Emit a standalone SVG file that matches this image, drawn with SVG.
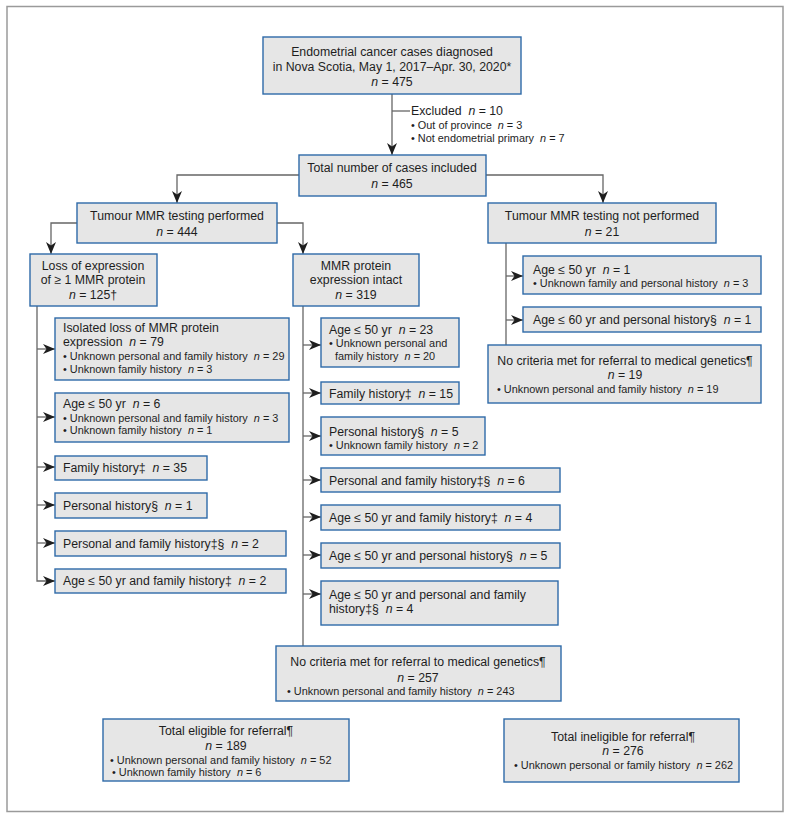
<svg xmlns="http://www.w3.org/2000/svg" width="791" height="819" viewBox="0 0 791 819">
<style>
text{font-family:"Liberation Sans",Arial,sans-serif;fill:#1e1e1e;white-space:pre}
.t{font-size:12.3px}
.s{font-size:10.9px}
.c{text-anchor:middle}
.i{font-style:italic}
.box{fill:#e6e6e6;stroke:#2e6aa8;stroke-width:1.4}
.ln{fill:none;stroke:#666;stroke-width:1.3}
</style>
<defs>
<marker id="ar" markerUnits="userSpaceOnUse" markerWidth="13" markerHeight="11" refX="12" refY="5" orient="auto">
<path d="M0,0 L12,5 L0,10 L3.5,5 z" fill="#1e1e1e"/>
</marker>
</defs>
<rect x="7" y="6.5" width="776" height="805" fill="#fff" stroke="#9a9a9a" stroke-width="1.5"/>

<g id="connectors">
<path class="ln" d="M392,94 V155" marker-end="url(#ar)"/>
<path class="ln" d="M392,111 H410"/>
<path class="ln" d="M299,175 H177 V203" marker-end="url(#ar)"/>
<path class="ln" d="M486,175 H603 V203" marker-end="url(#ar)"/>
<path class="ln" d="M77,223 H51 V254" marker-end="url(#ar)"/>
<path class="ln" d="M277,223 H303 V254" marker-end="url(#ar)"/>
<path class="ln" d="M37,306 V581 H55" marker-end="url(#ar)"/>
<path class="ln" d="M37,349 H55" marker-end="url(#ar)"/>
<path class="ln" d="M37,417 H55" marker-end="url(#ar)"/>
<path class="ln" d="M37,467 H55" marker-end="url(#ar)"/>
<path class="ln" d="M37,505 H55" marker-end="url(#ar)"/>
<path class="ln" d="M37,543 H55" marker-end="url(#ar)"/>
<path class="ln" d="M303,306 V646"/>
<path class="ln" d="M303,345 H321" marker-end="url(#ar)"/>
<path class="ln" d="M303,393 H321" marker-end="url(#ar)"/>
<path class="ln" d="M303,436 H321" marker-end="url(#ar)"/>
<path class="ln" d="M303,480 H321" marker-end="url(#ar)"/>
<path class="ln" d="M303,517 H321" marker-end="url(#ar)"/>
<path class="ln" d="M303,555 H321" marker-end="url(#ar)"/>
<path class="ln" d="M303,594 H321" marker-end="url(#ar)"/>
<path class="ln" d="M506,243 V345"/>
<path class="ln" d="M506,276 H523" marker-end="url(#ar)"/>
<path class="ln" d="M506,320 H523" marker-end="url(#ar)"/>
</g>

<g id="n-top">
<rect class="box" x="263" y="37" width="258" height="57"/>
<text class="t c" x="392" y="56">Endometrial cancer cases diagnosed</text>
<text class="t c" x="392" y="71">in Nova Scotia, May 1, 2017–Apr. 30, 2020*</text>
<text class="t c" x="392" y="86"><tspan class="i">n</tspan> = 475</text>
</g>

<g id="n-excluded">
<text class="t" x="411" y="115">Excluded  <tspan class="i">n</tspan> = 10</text>
<text class="s" x="411" y="129">• Out of province  <tspan class="i">n</tspan> = 3</text>
<text class="s" x="411" y="142">• Not endometrial primary  <tspan class="i">n</tspan> = 7</text>
</g>

<g id="n-total">
<rect class="box" x="299" y="155" width="187" height="41"/>
<text class="t c" x="392" y="172">Total number of cases included</text>
<text class="t c" x="392" y="188"><tspan class="i">n</tspan> = 465</text>
</g>

<g id="n-performed">
<rect class="box" x="77" y="203" width="200" height="40"/>
<text class="t c" x="177" y="220">Tumour MMR testing performed</text>
<text class="t c" x="177" y="236"><tspan class="i">n</tspan> = 444</text>
</g>

<g id="n-notperformed">
<rect class="box" x="488" y="203" width="228" height="40"/>
<text class="t c" x="602" y="220">Tumour MMR testing not performed</text>
<text class="t c" x="602" y="236"><tspan class="i">n</tspan> = 21</text>
</g>

<g id="n-loss">
<rect class="box" x="30" y="254" width="127" height="52"/>
<text class="t c" x="93" y="270">Loss of expression</text>
<text class="t c" x="93" y="284">of ≥ 1 MMR protein</text>
<text class="t c" x="93" y="299"><tspan class="i">n</tspan> = 125†</text>
</g>

<g id="n-intact">
<rect class="box" x="293" y="254" width="126" height="52"/>
<text class="t c" x="356" y="270">MMR protein</text>
<text class="t c" x="356" y="284">expression intact</text>
<text class="t c" x="356" y="299"><tspan class="i">n</tspan> = 319</text>
</g>

<g id="n-l1">
<rect class="box" x="55" y="318" width="234" height="62"/>
<text class="t" x="63" y="332">Isolated loss of MMR protein</text>
<text class="t" x="63" y="346">expression  <tspan class="i">n</tspan> = 79</text>
<text class="s" x="63" y="359.5">• Unknown personal and family history  <tspan class="i">n</tspan> = 29</text>
<text class="s" x="63" y="372.5">• Unknown family history  <tspan class="i">n</tspan> = 3</text>
</g>
<g id="n-l2">
<rect class="box" x="55" y="393" width="234" height="49"/>
<text class="t" x="63" y="408">Age ≤ 50 yr  <tspan class="i">n</tspan> = 6</text>
<text class="s" x="63" y="421.5">• Unknown personal and family history  <tspan class="i">n</tspan> = 3</text>
<text class="s" x="63" y="434">• Unknown family history  <tspan class="i">n</tspan> = 1</text>
</g>
<g id="n-l3">
<rect class="box" x="55" y="456" width="152" height="24"/>
<text class="t" x="63" y="472">Family history‡  <tspan class="i">n</tspan> = 35</text>
</g>
<g id="n-l4">
<rect class="box" x="55" y="493" width="152" height="25"/>
<text class="t" x="63" y="509.5">Personal history§  <tspan class="i">n</tspan> = 1</text>
</g>
<g id="n-l5">
<rect class="box" x="55" y="531" width="231" height="25"/>
<text class="t" x="63" y="547.5">Personal and family history‡§  <tspan class="i">n</tspan> = 2</text>
</g>
<g id="n-l6">
<rect class="box" x="55" y="569" width="231" height="24"/>
<text class="t" x="63" y="585">Age ≤ 50 yr and family history‡  <tspan class="i">n</tspan> = 2</text>
</g>

<g id="n-m1">
<rect class="box" x="321" y="318" width="138" height="49"/>
<text class="t" x="329" y="334">Age ≤ 50 yr  <tspan class="i">n</tspan> = 23</text>
<text class="s" x="329" y="347">• Unknown personal and</text>
<text class="s" x="335" y="360">family history  <tspan class="i">n</tspan> = 20</text>
</g>
<g id="n-m2">
<rect class="box" x="321" y="382" width="138" height="22"/>
<text class="t" x="329" y="397.5">Family history‡  <tspan class="i">n</tspan> = 15</text>
</g>
<g id="n-m3">
<rect class="box" x="321" y="417" width="164" height="38"/>
<text class="t" x="329" y="436">Personal history§  <tspan class="i">n</tspan> = 5</text>
<text class="s" x="329" y="449">• Unknown family history  <tspan class="i">n</tspan> = 2</text>
</g>
<g id="n-m4">
<rect class="box" x="321" y="468" width="239" height="24"/>
<text class="t" x="329" y="485">Personal and family history‡§  <tspan class="i">n</tspan> = 6</text>
</g>
<g id="n-m5">
<rect class="box" x="321" y="505" width="239" height="25"/>
<text class="t" x="329" y="522">Age ≤ 50 yr and family history‡  <tspan class="i">n</tspan> = 4</text>
</g>
<g id="n-m6">
<rect class="box" x="321" y="543" width="239" height="25"/>
<text class="t" x="329" y="559.5">Age ≤ 50 yr and personal history§  <tspan class="i">n</tspan> = 5</text>
</g>
<g id="n-m7">
<rect class="box" x="321" y="581" width="237" height="44"/>
<text class="t" x="329" y="598.5">Age ≤ 50 yr and personal and family</text>
<text class="t" x="329" y="613">history‡§  <tspan class="i">n</tspan> = 4</text>
</g>

<g id="n-midnone">
<rect class="box" x="276" y="646" width="285" height="55"/>
<text class="t c" x="418" y="666">No criteria met for referral to medical genetics¶</text>
<text class="t c" x="418" y="682"><tspan class="i">n</tspan> = 257</text>
<text class="s" x="287" y="694.5">• Unknown personal and family history  <tspan class="i">n</tspan> = 243</text>
</g>

<g id="n-r1">
<rect class="box" x="523" y="256" width="238" height="38"/>
<text class="t" x="533" y="273.5">Age ≤ 50 yr  <tspan class="i">n</tspan> = 1</text>
<text class="s" x="533" y="286.5">• Unknown family and personal history  <tspan class="i">n</tspan> = 3</text>
</g>
<g id="n-r2">
<rect class="box" x="523" y="307" width="238" height="25"/>
<text class="t" x="533" y="324">Age ≤ 60 yr and personal history§  <tspan class="i">n</tspan> = 1</text>
</g>
<g id="n-rightnone">
<rect class="box" x="488" y="345" width="273" height="58"/>
<text class="t c" x="625" y="365">No criteria met for referral to medical genetics¶</text>
<text class="t c" x="625" y="379"><tspan class="i">n</tspan> = 19</text>
<text class="s" x="497" y="393">• Unknown personal and family history  <tspan class="i">n</tspan> = 19</text>
</g>

<g id="n-eligible">
<rect class="box" x="103" y="719" width="246" height="62"/>
<text class="t c" x="226" y="735">Total eligible for referral¶</text>
<text class="t c" x="226" y="749.5"><tspan class="i">n</tspan> = 189</text>
<text class="s" x="110" y="763.5">• Unknown personal and family history  <tspan class="i">n</tspan> = 52</text>
<text class="s" x="112" y="776">• Unknown family history  <tspan class="i">n</tspan> = 6</text>
</g>
<g id="n-ineligible">
<rect class="box" x="504" y="719" width="235" height="63"/>
<text class="t c" x="623" y="741">Total ineligible for referral¶</text>
<text class="t c" x="623" y="755"><tspan class="i">n</tspan> = 276</text>
<text class="s" x="514" y="768.5">• Unknown personal or family history  <tspan class="i">n</tspan> = 262</text>
</g>
</svg>
